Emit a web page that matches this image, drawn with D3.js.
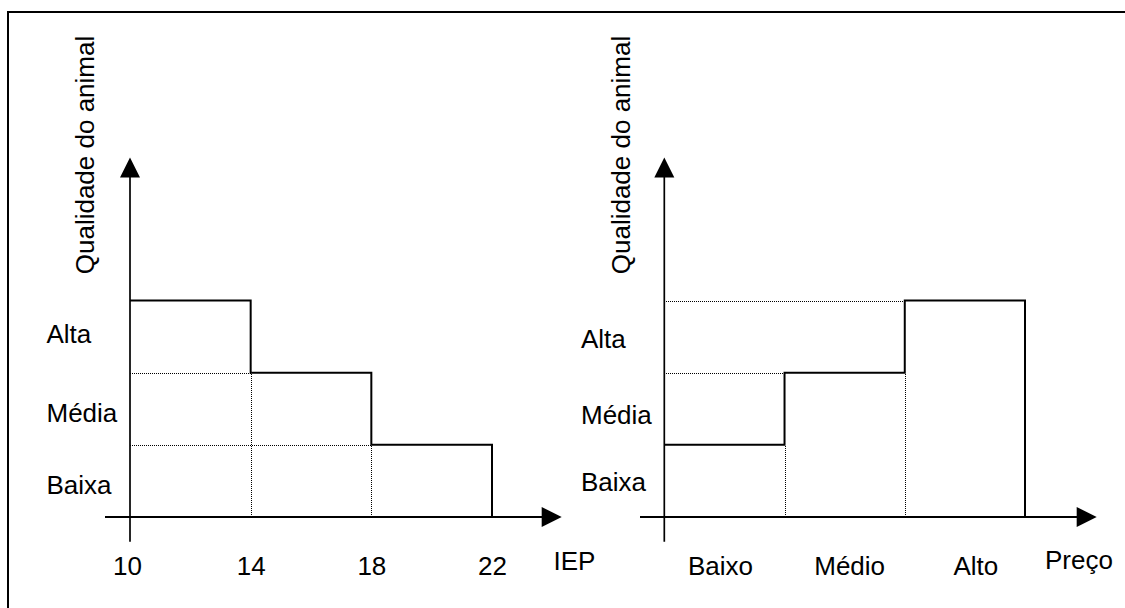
<!DOCTYPE html>
<html>
<head>
<meta charset="utf-8">
<script src="https://cdn.jsdelivr.net/npm/d3@7/dist/d3.min.js"></script>
<style>
  html, body { margin: 0; padding: 0; background: #fff; }
  svg { display: block; }
  text { font-family: "Liberation Sans", Arial, sans-serif; fill: #000; }
</style>
</head>
<body>
<svg id="chart" width="1125" height="608"></svg>
<script>
// ---- data ----
const qualityLabels = ["Baixa", "Média", "Alta"];       // levels 1..3 (bands between grid lines)
const yTitle = "Qualidade do animal";

// Left panel: IEP intervals and quality level
const iepTicks = [10, 14, 18, 22];
const iepQuality = [3, 2, 1];                            // quality level for [10-14], [14-18], [18-22]
const leftXLabel = "IEP";

// Right panel: price categories and quality level
const priceCategories = ["Baixo", "Médio", "Alto"];
const priceQuality = [1, 2, 3];
const rightXLabel = "Preço";

// ---- drawing ----
const svg = d3.select("#chart");
const FS = 26;

// frame (top + left edge of a box that continues beyond the picture)
svg.append("path").attr("d", "M8,608 V12 H1125").attr("fill", "none")
  .attr("stroke", "#000").attr("stroke-width", 2);

const y = d3.scaleLinear().domain([0, 3]).range([517, 300.5]);

function arrowUp(x, yTip) {
  return `M${x},${yTip} L${x - 10},${yTip + 20} L${x + 10},${yTip + 20} Z`;
}
function arrowRight(xTip, yy) {
  return `M${xTip},${yy} L${xTip - 20},${yy - 10} L${xTip - 20},${yy + 10} Z`;
}
const snap = v => Math.round(v) + 0.5;

function panel(opts) {
  const g = svg.append("g");
  const { xEdges, levels, x0, axisStart, arrowTip, labelOffsets, labelX, titleX } = opts;
  const y0 = y(0);

  // dotted guide lines
  const guides = [];
  for (let i = 1; i < levels.length; i++) {
    guides.push([[xEdges[0], snap(y(levels[i]))], [xEdges[i], snap(y(levels[i]))]]);
    guides.push([[snap(xEdges[i]), y0], [snap(xEdges[i]), y(Math.min(levels[i - 1], levels[i]))]]);
  }
  g.selectAll(".guide").data(guides).join("path")
    .attr("class", "guide")
    .attr("d", d3.line())
    .attr("fill", "none").attr("stroke", "#000")
    .attr("stroke-width", 1).attr("stroke-dasharray", "1,1")
    .attr("shape-rendering", "crispEdges");

  // step line
  const pts = [];
  levels.forEach((v, i) => {
    pts.push([xEdges[i], y(v)]);
    pts.push([xEdges[i + 1], y(v)]);
  });
  pts.push([xEdges[levels.length], y0]);
  g.append("path").attr("d", d3.line()(pts))
    .attr("fill", "none").attr("stroke", "#000").attr("stroke-width", 2);

  // axes
  g.append("line").attr("x1", x0).attr("x2", x0).attr("y1", 541.7).attr("y2", 170)
    .attr("stroke", "#000").attr("stroke-width", 1.7);
  g.append("path").attr("d", arrowUp(x0, 157.5)).attr("fill", "#000");
  g.append("line").attr("x1", axisStart).attr("x2", arrowTip - 12).attr("y1", y0).attr("y2", y0)
    .attr("stroke", "#000").attr("stroke-width", 2);
  g.append("path").attr("d", arrowRight(arrowTip, y0)).attr("fill", "#000");

  // quality labels
  g.selectAll(".ql").data(qualityLabels).join("text")
    .attr("class", "ql")
    .attr("x", labelX)
    .attr("y", (d, i) => y(i + 0.5) + labelOffsets[i])
    .attr("font-size", FS)
    .text(d => d);

  // y title
  g.append("text")
    .attr("transform", `translate(${titleX},155) rotate(-90)`)
    .attr("text-anchor", "middle")
    .attr("font-size", FS)
    .text(yTitle);
  return g;
}

// Left panel
const xL = d3.scaleLinear().domain([10, 22]).range([130, 492]);
panel({
  xEdges: iepTicks.map(xL),
  levels: iepQuality,
  x0: xL(10),
  axisStart: 105,
  arrowTip: 561.7,
  labelOffsets: [13.4, 12.9, 6.1],
  labelX: 46.5,
  titleX: 94
});
const axL = svg.append("g").attr("transform", `translate(0,${y(0)})`)
  .call(d3.axisBottom(xL).tickValues(iepTicks).tickSize(0).tickPadding(39.5).tickFormat(d3.format("d")));
axL.select(".domain").remove();
axL.selectAll("text").attr("font-size", FS).attr("font-family", null)
  .attr("dx", (d, i) => i === 0 ? -3 : 0);
svg.append("text").attr("x", 553.5).attr("y", 570).attr("font-size", FS).text(leftXLabel);

// Right panel
const xR = d3.scaleBand().domain(priceCategories).range([664.3, 1025]).paddingInner(0).paddingOuter(0);
const rEdges = priceCategories.map(c => xR(c)).concat([xR.range()[1]]);
panel({
  xEdges: rEdges,
  levels: priceQuality,
  x0: xR.range()[0],
  axisStart: 640,
  arrowTip: 1096.7,
  labelOffsets: [10.1, 15.5, 11.1],
  labelX: 581,
  titleX: 630
});
const labelNudge = [-4, 5, 11];
const axR = svg.append("g").attr("transform", `translate(0,${y(0)})`)
  .call(d3.axisBottom(xR).tickSize(0).tickPadding(39.5));
axR.select(".domain").remove();
axR.selectAll("text").attr("font-size", FS).attr("font-family", null)
  .attr("dx", (d, i) => labelNudge[i]);
svg.append("text").attr("x", 1045).attr("y", 569.3).attr("font-size", FS).text(rightXLabel);
</script>
</body>
</html>
